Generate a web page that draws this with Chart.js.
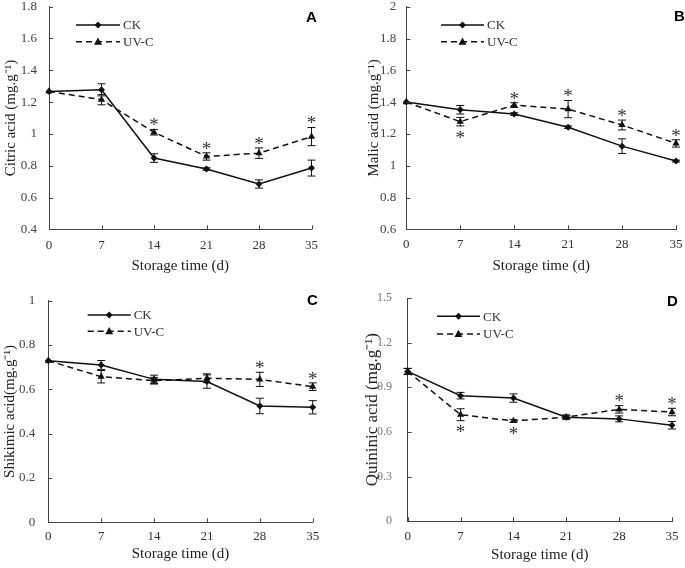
<!DOCTYPE html>
<html>
<head>
<meta charset="utf-8">
<script src="https://cdn.jsdelivr.net/npm/chart.js@4.4.1/dist/chart.umd.min.js"></script>
<style>
body { margin: 0; background: #fff; }
#wrap { position: relative; width: 685px; height: 568px; }
canvas { position: absolute; }
</style>
</head>
<body>
<div id="wrap">
  <canvas id="chartA" width="342" height="284" style="left:0;top:0"></canvas>
  <canvas id="chartB" width="343" height="284" style="left:342px;top:0"></canvas>
  <canvas id="chartC" width="342" height="284" style="left:0;top:284px"></canvas>
  <canvas id="chartD" width="343" height="284" style="left:342px;top:284px"></canvas>
</div>
<script>
const days = ['0', '7', '14', '21', '28', '35'];
const seriesNames = ['CK', 'UV-C'];

// A - acide citrique
const citricCK = [1.267, 1.277, 0.848, 0.779, 0.685, 0.785];
const citricCKErr = [0, 0.038, 0.027, 0.008, 0.026, 0.05];
const citricUV = [1.267, 1.215, 1.01, 0.858, 0.879, 0.983];
const citricUVErr = [0, 0.032, 0.017, 0.023, 0.033, 0.057];
const citricSig = [0, 0, 1, 1, 1, 1];

// B - acide malique
const malicCK = [1.40, 1.352, 1.325, 1.242, 1.123, 1.029];
const malicCKErr = [0, 0.027, 0.008, 0.008, 0.046, 0.006];
const malicUV = [1.40, 1.277, 1.381, 1.356, 1.256, 1.14];
const malicUVErr = [0, 0.027, 0.015, 0.054, 0.031, 0.023];
const malicSig = [0, -1, 1, 1, 1, 1];

// C - acide shikimique
const shikimicCK = [0.729, 0.71, 0.645, 0.635, 0.525, 0.519];
const shikimicCKErr = [0, 0.02, 0.019, 0.03, 0.035, 0.03];
const shikimicUV = [0.729, 0.657, 0.639, 0.65, 0.645, 0.612];
const shikimicUVErr = [0, 0.028, 0.015, 0.02, 0.032, 0.017];
const shikimicSig = [0, 0, 0, 0, 1, 1];

// D - acide quinique
const quininicCK = [1.007, 0.844, 0.828, 0.699, 0.688, 0.645];
const quininicCKErr = [0.02, 0.022, 0.028, 0.01, 0.02, 0.025];
const quininicUV = [1.007, 0.716, 0.674, 0.70, 0.752, 0.734];
const quininicUVErr = [0.02, 0.04, 0.01, 0.015, 0.025, 0.025];
const quininicSig = [0, -1, -1, 0, 1, 1];

const serif = '"Liberation Serif", "Times New Roman", serif';

function markerPath(ctx, style, x, y, r) {
    ctx.beginPath();
    if (style === 'triangle') {
        ctx.moveTo(x, y - r);
        ctx.lineTo(x + r * 0.95, y + r * 0.7);
        ctx.lineTo(x - r * 0.95, y + r * 0.7);
    } else {
        ctx.moveTo(x, y - r);
        ctx.lineTo(x + r, y);
        ctx.lineTo(x, y + r);
        ctx.lineTo(x - r, y);
    }
    ctx.closePath();
    ctx.fill();
}

// barres d'erreur + astérisques de significativité
const errorBars = {
    id: 'errorBars',
    afterDatasetsDraw(chart) {
        const ctx = chart.ctx;
        const y = chart.scales.y;
        chart.data.datasets.forEach((ds, i) => {
            const meta = chart.getDatasetMeta(i);
            ctx.save();
            ctx.strokeStyle = '#111';
            ctx.lineWidth = 1;
            meta.data.forEach((pt, j) => {
                const e = ds.errors[j];
                const top = y.getPixelForValue(ds.data[j] + e);
                const bot = y.getPixelForValue(ds.data[j] - e);
                if (e) {
                    ctx.beginPath();
                    ctx.moveTo(pt.x, top); ctx.lineTo(pt.x, bot);
                    ctx.moveTo(pt.x - 4, top); ctx.lineTo(pt.x + 4, top);
                    ctx.moveTo(pt.x - 4, bot); ctx.lineTo(pt.x + 4, bot);
                    ctx.stroke();
                }
                const s = ds.signif ? ds.signif[j] : 0;
                if (s) {
                    ctx.fillStyle = '#333';
                    ctx.font = '19px ' + serif;
                    ctx.textAlign = 'center';
                    ctx.textBaseline = 'alphabetic';
                    const cy = s > 0 ? top - 8 : bot + 8;
                    ctx.fillText('*', pt.x, cy + 9.8);
                }
            });
            ctx.restore();
        });
    }
};

// petits traits de graduation vers l'intérieur
const innerTicks = {
    id: 'innerTicks',
    afterDraw(chart) {
        const ctx = chart.ctx;
        const { left, bottom } = chart.chartArea;
        const x = chart.scales.x, y = chart.scales.y;
        ctx.save();
        ctx.strokeStyle = '#444';
        ctx.lineWidth = 1;
        ctx.beginPath();
        y.ticks.forEach((t, k) => {
            const p = Math.round(y.getPixelForTick(k)) + 0.5;
            ctx.moveTo(left, p); ctx.lineTo(left + 4, p);
        });
        x.ticks.forEach((t, k) => {
            const p = Math.round(x.getPixelForTick(k)) + 0.5;
            ctx.moveTo(p, bottom); ctx.lineTo(p, bottom - 4);
        });
        ctx.stroke();
        ctx.restore();
    }
};

// légende dessinée à la main (trait + marqueur au milieu)
const miniLegend = {
    id: 'miniLegend',
    afterDraw(chart, args, o) {
        const ctx = chart.ctx;
        chart.data.datasets.forEach((ds, i) => {
            const y = o.y + i * o.gap;
            ctx.save();
            ctx.strokeStyle = ds.borderColor;
            ctx.lineWidth = ds.borderWidth;
            ctx.setLineDash(ds.borderDash || []);
            ctx.beginPath();
            ctx.moveTo(o.x, y); ctx.lineTo(o.x + o.len, y);
            ctx.stroke();
            ctx.setLineDash([]);
            ctx.fillStyle = ds.pointBackgroundColor;
            markerPath(ctx, ds.pointStyle, o.x + o.len / 2, y, ds.pointRadius);
            ctx.fillStyle = '#333';
            ctx.font = '13px ' + serif;
            ctx.textAlign = 'left';
            ctx.textBaseline = 'middle';
            ctx.fillText(ds.label, o.x + o.len + 3, y + 1);
            ctx.restore();
        });
    }
};

const panelLetter = {
    id: 'panelLetter',
    afterDraw(chart, args, o) {
        const ctx = chart.ctx;
        ctx.save();
        ctx.fillStyle = '#000';
        ctx.font = 'bold 15px "Liberation Sans", Arial, sans-serif';
        ctx.textAlign = 'left';
        ctx.textBaseline = 'middle';
        ctx.fillText(o.text, o.x, o.y);
        ctx.restore();
    }
};

// espace label/axe via un tick invisible (ticks.padding gonflerait la marge haute)
function gapGrid(len) {
    return { display: true, drawOnChartArea: false, drawTicks: true, tickLength: len, tickColor: 'rgba(0,0,0,0)' };
}

function renderPanel(p) {
    const canvas = document.getElementById(p.id);
    const H = canvas.height, W = canvas.width;
    return new Chart(canvas.getContext('2d'), {
        type: 'line',
        data: {
            labels: days,
            datasets: [
                {
                    label: seriesNames[0],
                    data: p.ck,
                    errors: p.ckErr,
                    borderColor: '#111',
                    borderWidth: 1.5,
                    pointStyle: 'rectRot',
                    pointRadius: 3.5,
                    pointBackgroundColor: '#111',
                    pointBorderWidth: 0,
                    tension: 0
                },
                {
                    label: seriesNames[1],
                    data: p.uv,
                    errors: p.uvErr,
                    signif: p.sig,
                    borderColor: '#111',
                    borderWidth: 1.5,
                    borderDash: [6, 4],
                    pointStyle: 'triangle',
                    pointRadius: 4.2,
                    pointBackgroundColor: '#111',
                    pointBorderWidth: 0,
                    tension: 0
                }
            ]
        },
        options: {
            responsive: false,
            animation: false,
            layout: { padding: { top: p.top, right: W - p.right, left: p.padLeft, bottom: 0 } },
            plugins: {
                legend: { display: false },
                tooltip: { enabled: false },
                miniLegend: p.legend,
                panelLetter: p.letter
            },
            scales: {
                x: {
                    offset: false,
                    grid: gapGrid(p.xTickPad),
                    border: { display: true, color: '#444', width: 1 },
                    ticks: { color: '#333', padding: 0, maxRotation: 0, font: { family: serif, size: 13, lineHeight: 1 } },
                    title: { display: true, text: 'Storage time (d)', color: '#222', padding: { top: 0, bottom: p.xTitlePad }, font: { family: serif, size: 15 } },
                    afterFit: s => { s.height = H - p.bottom; }
                },
                y: {
                    min: p.yMin,
                    max: p.yMax,
                    grid: gapGrid(p.yTickPad),
                    border: { display: true, color: '#444', width: 1 },
                    ticks: {
                        stepSize: p.step,
                        color: p.yTickColor,
                        padding: 0,
                        font: { family: serif, size: p.yTickSize, lineHeight: 1 },
                        callback: v => Number(v.toFixed(2)).toString()
                    },
                    title: { display: true, text: p.yTitle, color: '#222', padding: { top: p.yTitlePad, bottom: 0 }, font: { family: serif, size: p.yTitleSize } },
                    afterFit: s => { s.width = p.left - p.padLeft; }
                }
            }
        },
        plugins: [errorBars, innerTicks, miniLegend, panelLetter]
    });
}

renderPanel({
    id: 'chartA', ck: citricCK, ckErr: citricCKErr, uv: citricUV, uvErr: citricUVErr, sig: citricSig,
    yMin: 0.4, yMax: 1.8, step: 0.2, yTitle: 'Citric acid (mg.g⁻¹)',
    left: 49, right: 311.5, top: 6.7, bottom: 229.3, padLeft: 0,
    yTitlePad: 1.6, yTitleSize: 15, yTickPad: 12, yTickSize: 13, yTickColor: '#444',
    xTickPad: 10.2, xTitlePad: 8.9,
    legend: { x: 76, y: 25, len: 44, gap: 16.7 },
    letter: { text: 'A', x: 306, y: 18 }
});

renderPanel({
    id: 'chartB', ck: malicCK, ckErr: malicCKErr, uv: malicUV, uvErr: malicUVErr, sig: malicSig,
    yMin: 0.6, yMax: 2, step: 0.2, yTitle: 'Malic acid (mg.g⁻¹)',
    left: 64.3, right: 334, top: 6.7, bottom: 229.3, padLeft: 20,
    yTitlePad: 3.3, yTitleSize: 15, yTickPad: 10, yTickSize: 13, yTickColor: '#444',
    xTickPad: 8.5, xTitlePad: 8.9,
    legend: { x: 99, y: 25, len: 43, gap: 16.7 },
    letter: { text: 'B', x: 332, y: 17 }
});

renderPanel({
    id: 'chartC', ck: shikimicCK, ckErr: shikimicCKErr, uv: shikimicUV, uvErr: shikimicUVErr, sig: shikimicSig,
    yMin: 0, yMax: 1, step: 0.2, yTitle: 'Shikimic acid(mg.g⁻¹)',
    left: 48.3, right: 312.7, top: 16.7, bottom: 238.3, padLeft: 0,
    yTitlePad: 1.1, yTitleSize: 15, yTickPad: 13, yTickSize: 13, yTickColor: '#444',
    xTickPad: 7.9, xTitlePad: 4.9,
    legend: { x: 87.7, y: 31, len: 43, gap: 16.3 },
    letter: { text: 'C', x: 307, y: 16.5 }
});

renderPanel({
    id: 'chartD', ck: quininicCK, ckErr: quininicCKErr, uv: quininicUV, uvErr: quininicUVErr, sig: quininicSig,
    yMin: 0, yMax: 1.5, step: 0.3, yTitle: 'Quininic acid (mg.g⁻¹)',
    left: 65.7, right: 330, top: 14, bottom: 237.3, padLeft: 20,
    yTitlePad: 0, yTitleSize: 17, yTickPad: 15.7, yTickSize: 12, yTickColor: '#777',
    xTickPad: 8.5, xTitlePad: 3.9,
    legend: { x: 95, y: 32.3, len: 43, gap: 17.7 },
    letter: { text: 'D', x: 325, y: 18 }
});
</script>
</body>
</html>
